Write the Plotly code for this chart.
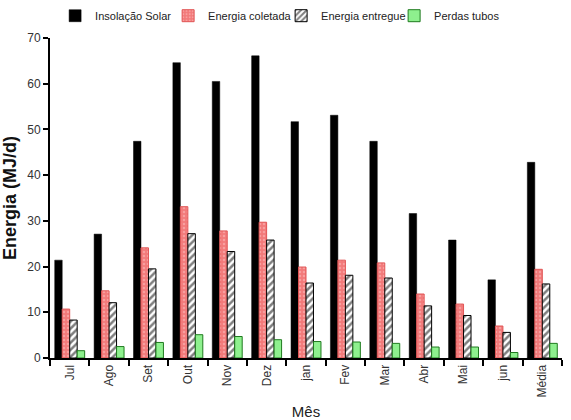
import plotly.graph_objects as go

meses = ["Jul", "Ago", "Set", "Out", "Nov", "Dez", "jan", "Fev", "Mar", "Abr", "Mai", "jun", "Média"]
insolacao = [21.4, 27.1, 47.4, 64.6, 60.5, 66.1, 51.7, 53.1, 47.4, 31.6, 25.8, 17.1, 42.8]
coletada = [10.7, 14.7, 24.1, 33.1, 27.8, 29.7, 19.9, 21.4, 20.8, 14.0, 11.8, 7.0, 19.4]
entregue = [8.3, 12.1, 19.5, 27.2, 23.3, 25.8, 16.4, 18.1, 17.5, 11.4, 9.3, 5.6, 16.2]
perdas = [1.6, 2.5, 3.4, 5.1, 4.7, 4.0, 3.6, 3.5, 3.2, 2.4, 2.4, 1.2, 3.2]

FONT = "Liberation Sans, Arial, sans-serif"

fig = go.Figure()
fig.add_trace(go.Bar(name="Insolação Solar", x=meses, y=insolacao,
                     marker=dict(color="black", line=dict(color="black", width=0.5))))
fig.add_trace(go.Bar(name="Energia coletada", x=meses, y=coletada,
                     marker=dict(color="#f27a7a", line=dict(color="#e05555", width=1),
                                 pattern=dict(shape=".", fgcolor="#ffc4c4", bgcolor="#f27a7a",
                                              size=4, solidity=0.3))))
fig.add_trace(go.Bar(name="Energia entregue", x=meses, y=entregue,
                     marker=dict(color="white", line=dict(color="black", width=1),
                                 pattern=dict(shape="/", fgcolor="black", bgcolor="white",
                                              size=5, solidity=0.5))))
fig.add_trace(go.Bar(name="Perdas tubos", x=meses, y=perdas,
                     marker=dict(color="#8ef08e", line=dict(color="#1f7a1f", width=1))))

fig.update_layout(
    width=571, height=420,
    margin=dict(l=50, r=9, t=38, b=62, autoexpand=False),
    paper_bgcolor="white", plot_bgcolor="white",
    barmode="group", bargap=0.24, bargroupgap=0,
    font=dict(family=FONT, size=12, color="#333333"),
    showlegend=True,
    legend=dict(orientation="h", x=0.01, y=1.115, xanchor="left", yanchor="top",
                font=dict(family=FONT, size=11, color="#222222"),
                itemwidth=30, entrywidth=68, entrywidthmode="pixels",
                tracegroupgap=0, traceorder="normal", bgcolor="rgba(0,0,0,0)"),
)
fig.update_xaxes(
    type="category", showline=True, linecolor="black", linewidth=2, automargin=False,
    ticks="outside", tickson="boundaries", ticklen=6, tickcolor="black", tickwidth=2,
    tickangle=-90, tickfont=dict(family=FONT, size=12, color="#333333"),
    title=dict(text="Mês", font=dict(family=FONT, size=15, color="#222222"), standoff=14),
    showgrid=False, mirror=False,
)
fig.update_yaxes(
    range=[0, 70], dtick=10, showline=True, linecolor="black", linewidth=2, automargin=False,
    ticks="outside", ticklen=5, tickcolor="black", tickwidth=2,
    tickfont=dict(family=FONT, size=12, color="#333333"),
    title=dict(text="<b>Energia (MJ/d)</b>", font=dict(family=FONT, size=18, color="#111111"), standoff=6),
    showgrid=False, zeroline=False,
)

fig.write_html("out.html")
